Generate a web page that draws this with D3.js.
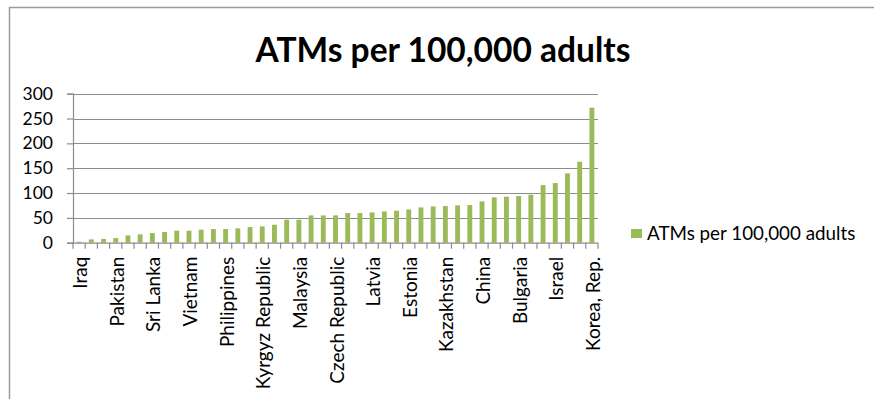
<!DOCTYPE html>
<html>
<head>
<meta charset="utf-8">
<script src="https://cdn.jsdelivr.net/npm/d3@7"></script>
<style>
  html, body { margin: 0; padding: 0; background: #fff; }
  svg { display: block; }
  text { font-family: Lato, "Open Sans", sans-serif; fill: #000; }
</style>
</head>
<body>
<svg id="chart" width="874" height="399"></svg>
<script>
// Countries sorted by ATMs per 100,000 adults (unlabelled bars use placeholder keys).
const countries = [
  "Iraq", "c2", "c3", "Pakistan", "c5", "c6", "Sri Lanka", "c8", "c9", "Vietnam",
  "c11", "c12", "Philippines", "c14", "c15", "Kyrgyz Republic", "c17", "c18", "Malaysia",
  "c20", "c21", "Czech Republic", "c23", "c24", "Latvia", "c26", "c27", "Estonia",
  "c29", "c30", "Kazakhstan", "c32", "c33", "China", "c35", "c36", "Bulgaria",
  "c38", "c39", "Israel", "c41", "c42", "Korea, Rep."
];
const atms = [
  2, 6.7, 7.4, 9.4, 14.8, 16.8, 19.5, 21.5, 24.2, 24.2,
  26.2, 27.5, 27.5, 28.9, 31.5, 32.9, 36.2, 46.3, 46.3, 55,
  55, 55, 59.7, 59.7, 61, 63, 64.4, 67, 71, 73,
  73.8, 75.2, 75.8, 83.2, 91.3, 92.6, 94, 96.6, 116, 120,
  139.6, 163, 271.8
];
const yTicks = [0, 50, 100, 150, 200, 250, 300];
const title = "ATMs per 100,000 adults";
const seriesName = "ATMs per 100,000 adults";

const svg = d3.select("#chart");
const plot = { left: 73, right: 598, top: 93.7, bottom: 242.7 };
const barColor = "#9BBB59";
const gridColor = "#8c8c8c";
const labelSize = 19;

// Outer chart frame
svg.append("rect")
  .attr("x", 9.5).attr("y", 7.5)
  .attr("width", 900).attr("height", 500)
  .attr("fill", "none").attr("stroke", "#9a9a9a").attr("stroke-width", 1.5);

// Title
svg.append("text")
  .attr("x", 443).attr("y", 61.5)
  .attr("text-anchor", "middle")
  .attr("font-size", 33.5).attr("font-weight", "bold")
  .text(title);

const x = d3.scaleBand()
  .domain(countries)
  .range([plot.left, plot.right])
  .paddingInner(0.6).paddingOuter(0.3);

const y = d3.scaleLinear().domain([0, 300]).range([plot.bottom, plot.top]);

// Horizontal gridlines
svg.append("g")
  .selectAll("line")
  .data(yTicks.filter(d => d > 0))
  .join("line")
  .attr("x1", plot.left).attr("x2", plot.right)
  .attr("y1", d => Math.round(y(d)) + 0.5).attr("y2", d => Math.round(y(d)) + 0.5)
  .attr("stroke", gridColor).attr("stroke-width", 1.2);

// Y axis
const yAxis = svg.append("g")
  .attr("transform", `translate(${plot.left},0)`)
  .call(d3.axisLeft(y).tickValues(yTicks).tickSize(6).tickPadding(14));
yAxis.select(".domain").attr("stroke", gridColor).attr("stroke-width", 1.2);
yAxis.selectAll(".tick line").attr("stroke", gridColor).attr("stroke-width", 1.2);
yAxis.selectAll(".tick text")
  .attr("font-size", 17.5).attr("font-family", "Lato, 'Open Sans', sans-serif").attr("fill", "#000");

// Bars
svg.append("g")
  .selectAll("rect")
  .data(atms)
  .join("rect")
  .attr("x", (d, i) => x(countries[i]))
  .attr("width", x.bandwidth())
  .attr("y", d => y(d))
  .attr("height", d => y(0) - y(d))
  .attr("fill", barColor);

// X axis: baseline and tick marks at category boundaries
const boundaries = d3.range(countries.length + 1).map(i => plot.left + i * (plot.right - plot.left) / countries.length);
const xAxisG = svg.append("g");
xAxisG.append("line")
  .attr("x1", plot.left).attr("x2", plot.right)
  .attr("y1", plot.bottom + 0.5).attr("y2", plot.bottom + 0.5)
  .attr("stroke", gridColor).attr("stroke-width", 1.2);
xAxisG.selectAll("line.tk")
  .data(boundaries)
  .join("line")
  .attr("class", "tk")
  .attr("x1", d => d).attr("x2", d => d)
  .attr("y1", plot.bottom).attr("y2", plot.bottom + 6)
  .attr("stroke", gridColor).attr("stroke-width", 1.2);

// Category labels (every third country is named)
xAxisG.selectAll("text")
  .data(countries.filter(c => !/^c\d+$/.test(c)))
  .join("text")
  .attr("transform", d => `translate(${x(d) + x.bandwidth() / 2 + 8},${plot.bottom + 14}) rotate(-90)`)
  .attr("text-anchor", "end")
  .attr("font-size", labelSize)
  .text(d => d);

// Legend
const legend = svg.append("g");
legend.append("rect")
  .attr("x", 631).attr("y", 229).attr("width", 11).attr("height", 9)
  .attr("fill", barColor);
legend.append("text")
  .attr("x", 647).attr("y", 240)
  .attr("font-size", 18.8)
  .text(seriesName);
</script>
</body>
</html>
